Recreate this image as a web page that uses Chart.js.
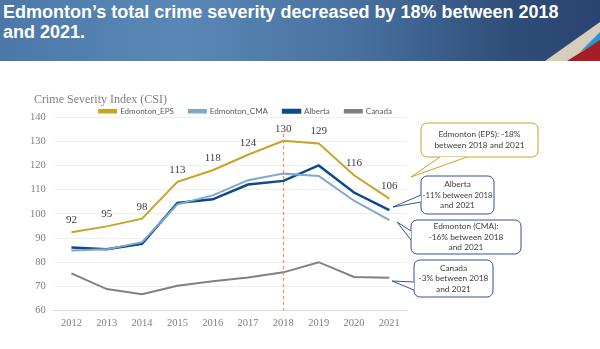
<!DOCTYPE html>
<html>
<head>
<meta charset="utf-8">
<script src="https://cdn.jsdelivr.net/npm/chart.js@4.4.0/dist/chart.umd.min.js"></script>
<style>
  body { margin: 0; width: 600px; height: 349px; overflow: hidden; background: #fff; font-family: "Liberation Sans", Arial, sans-serif; }
  .header { position: absolute; left: 0; top: 0; width: 600px; height: 61px;
    background: linear-gradient(90deg, #4b78a9 0%, #5a88b6 30%, #47709f 60%, #2f4d79 85%, #2a4470 100%); overflow: hidden; }
  .header h1 { position: absolute; left: 3px; top: 2px; margin: 0; color: #fff; font-size: 18px; line-height: 20px; font-weight: bold; }
  .header svg { position: absolute; left: 0; top: 0; }
  .subtitle { position: absolute; left: 34px; top: 92px; font-family: "Liberation Serif", serif; font-size: 12px; color: #7f7f7f; }
  .wrap { position: absolute; left: 0; top: 61px; width: 600px; height: 288px; }
</style>
</head>
<body>
<div class="header">
  <svg width="600" height="61">
    <polygon points="545,61 600,22 600,61" fill="#d6cdbd"/>
    <polygon points="580,52 600,32 600,41" fill="#1f9ad6"/>
    <polygon points="567,61 600,40 600,61" fill="#a41e24"/>
  </svg>
  <h1>Edmonton’s total crime severity decreased by 18% between 2018<br>and 2021.</h1>
</div>
<div class="wrap"><canvas id="csiChart"></canvas></div>
<div class="subtitle">Crime Severity Index (CSI)</div>
<script>
// Crime Severity Index data
const years = ["2012", "2013", "2014", "2015", "2016", "2017", "2018", "2019", "2020", "2021"];
const edmontonEPS = [92.4, 94.8, 98.0, 113.2, 118.0, 124.4, 130.2, 129.1, 115.9, 106.3];
const edmontonCMA = [84.8, 85.3, 88.3, 103.9, 107.6, 113.9, 116.6, 115.6, 105.4, 97.4];
const alberta = [86.1, 85.4, 87.6, 104.5, 106.0, 112.1, 113.6, 120.0, 108.8, 101.5];
const canada = [75.4, 68.9, 66.8, 70.3, 72.1, 73.7, 75.8, 80.0, 73.9, 73.6];
const epsLabels = ["92", "95", "98", "113", "118", "124", "130", "129", "116", "106"];
const yTicks = [60, 70, 80, 90, 100, 110, 120, 130, 140];

const serif = "'Liberation Serif', 'DejaVu Serif', serif";
const sans = "Lato, 'Liberation Sans', Arial, sans-serif";

// callout boxes (canvas coords)
const callouts = [
  { x: 421, y: 62, w: 117, h: 34, color: "#c9a227", lines: ["Edmonton (EPS): -18%", "between 2018 and 2021"],
    tail: [[440, 96], [467, 96], [411, 116]] },
  { x: 421, y: 115, w: 73, h: 38, color: "#2f5597", lines: ["Alberta", "-11% between 2018", "and 2021"],
    tail: [[421, 134], [421, 141], [393, 146]] },
  { x: 411, y: 159, w: 110, h: 34, color: "#2f5597", lines: ["Edmonton (CMA):", "-16% between 2018", "and 2021"],
    tail: [[411, 170], [411, 179], [397, 161]] },
  { x: 414, y: 199, w: 79, h: 37, color: "#2f5597", lines: ["Canada", "-3% between 2018", "and 2021"],
    tail: [[414, 221], [414, 229], [392, 220]] }
];

const extrasPlugin = {
  id: "extras",
  afterDatasetsDraw(chart) {
    const ctx = chart.ctx;
    const xs = chart.scales.x, ys = chart.scales.y;
    // dashed line at 2018
    const x18 = Math.round(xs.getPixelForValue(years.indexOf("2018"))) + 0.5;
    ctx.save();
    ctx.strokeStyle = "#f2914f";
    ctx.lineWidth = 1.2;
    ctx.setLineDash([3, 3]);
    ctx.beginPath();
    ctx.moveTo(x18, ys.getPixelForValue(133));
    ctx.lineTo(x18, ys.getPixelForValue(60));
    ctx.stroke();
    ctx.restore();

    // EPS value labels
    const meta = chart.getDatasetMeta(0);
    ctx.save();
    ctx.fillStyle = "#404040";
    ctx.font = "11px " + serif;
    ctx.textAlign = "center";
    ctx.textBaseline = "middle";
    meta.data.forEach((pt, i) => {
      ctx.fillText(epsLabels[i], pt.x, pt.y - 12);
    });
    ctx.restore();
  },
  afterDraw(chart) {
    const ctx = chart.ctx;
    callouts.forEach(c => {
      ctx.save();
      ctx.fillStyle = "#fff";
      ctx.strokeStyle = c.color;
      ctx.lineWidth = 1;
      ctx.beginPath();
      ctx.roundRect(c.x, c.y, c.w, c.h, 6);
      ctx.fill();
      ctx.stroke();
      const t = c.tail;
      ctx.beginPath();
      ctx.moveTo(t[0][0], t[0][1]);
      ctx.lineTo(t[2][0], t[2][1]);
      ctx.lineTo(t[1][0], t[1][1]);
      ctx.closePath();
      ctx.fill();
      ctx.beginPath();
      ctx.moveTo(t[0][0], t[0][1]);
      ctx.lineTo(t[2][0], t[2][1]);
      ctx.lineTo(t[1][0], t[1][1]);
      ctx.stroke();
      ctx.fillStyle = "#404040";
      ctx.font = "8.3px " + sans;
      ctx.textAlign = "center";
      ctx.textBaseline = "middle";
      const lh = 10.5;
      const cy = c.y + c.h / 2 - (c.lines.length - 1) * lh / 2;
      c.lines.forEach((l, i) => ctx.fillText(l, c.x + c.w / 2, cy + i * lh, c.w - 3));
      ctx.restore();
    });
  }
};

const mkSet = (label, data, color, width) => ({
  label, data,
  borderColor: color, backgroundColor: color,
  borderWidth: width, pointRadius: 0, tension: 0
});

new Chart(document.getElementById("csiChart"), {
  type: "line",
  data: {
    labels: years,
    datasets: [
      mkSet("Edmonton_EPS", edmontonEPS, "#c9a227", 2),
      mkSet("Edmonton_CMA", edmontonCMA, "#7fa8cc", 2),
      mkSet("Alberta", alberta, "#0d4a8c", 2.5),
      mkSet("Canada", canada, "#808080", 2)
    ]
  },
  options: {
    responsive: true,
    maintainAspectRatio: false,
    animation: false,
    layout: { padding: { left: 22, right: 193, top: 31.2, bottom: 13.8 } },
    plugins: {
      legend: {
        position: "top", align: "end", maxHeight: 24.8,
        labels: {
          boxWidth: 17, boxHeight: 2.5, padding: 15,
          color: "#595959", font: { family: sans, size: 8 }
        }
      },
      tooltip: { enabled: false }
    },
    scales: {
      x: {
        offset: true,
        grid: { display: false, drawTicks: false },
        border: { color: "#d9d9d9" },
        ticks: { color: "#7f7f7f", font: { family: serif, size: 10.5 }, padding: 6 }
      },
      y: {
        min: 60, max: 140,
        afterBuildTicks: axis => { axis.ticks = yTicks.map(v => ({ value: v })); },
        grid: { color: "#efefef", drawTicks: false },
        border: { display: false },
        ticks: { color: "#7f7f7f", font: { family: serif, size: 10.5 }, padding: 8 }
      }
    }
  },
  plugins: [extrasPlugin]
});
</script>
</body>
</html>
